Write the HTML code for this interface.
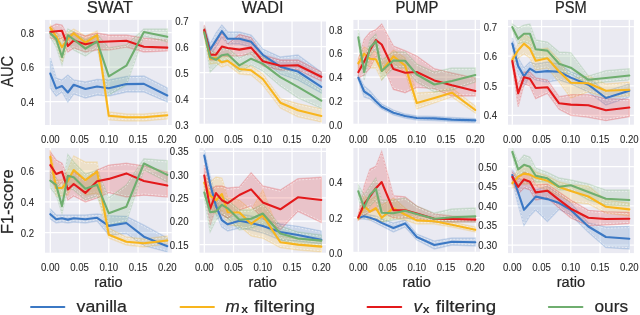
<!DOCTYPE html><html><head><meta charset="utf-8"><style>html,body{margin:0;padding:0;background:#fff;width:640px;height:315px;overflow:hidden}svg{display:block;will-change:transform}text{font-family:"Liberation Sans",sans-serif;fill:#262626}.tk{stroke:#262626;stroke-width:0.08px}.lg{stroke:#262626;stroke-width:0.2px}</style></head><body>
<svg width="640" height="315" viewBox="0 0 640 315">
<defs>
<clipPath id="c0"><rect x="45" y="19.9" width="126.80" height="105.10"/></clipPath>
<clipPath id="c1"><rect x="199.5" y="20.9" width="126.50" height="102.80"/></clipPath>
<clipPath id="c2"><rect x="353.4" y="19.9" width="126.60" height="103.80"/></clipPath>
<clipPath id="c3"><rect x="508" y="19.9" width="125.90" height="104.80"/></clipPath>
<clipPath id="c4"><rect x="45" y="148" width="126.80" height="104.70"/></clipPath>
<clipPath id="c5"><rect x="199.5" y="148" width="126.50" height="104.70"/></clipPath>
<clipPath id="c6"><rect x="353.4" y="148" width="126.60" height="103.80"/></clipPath>
<clipPath id="c7"><rect x="508" y="148" width="125.90" height="105.10"/></clipPath>
</defs>
<rect x="45" y="19.9" width="126.80" height="105.10" fill="#eaeaf2"/>
<line x1="50.30" y1="19.9" x2="50.30" y2="125" stroke="#fff" stroke-width="1.25"/>
<line x1="79.55" y1="19.9" x2="79.55" y2="125" stroke="#fff" stroke-width="1.25"/>
<line x1="108.80" y1="19.9" x2="108.80" y2="125" stroke="#fff" stroke-width="1.25"/>
<line x1="138.05" y1="19.9" x2="138.05" y2="125" stroke="#fff" stroke-width="1.25"/>
<line x1="167.30" y1="19.9" x2="167.30" y2="125" stroke="#fff" stroke-width="1.25"/>
<line x1="45" y1="101.7" x2="171.8" y2="101.7" stroke="#fff" stroke-width="1.25"/>
<line x1="45" y1="67.0" x2="171.8" y2="67.0" stroke="#fff" stroke-width="1.25"/>
<line x1="45" y1="32.5" x2="171.8" y2="32.5" stroke="#fff" stroke-width="1.25"/>
<g clip-path="url(#c0)">
<polygon points="50.3,58 56.15,78 62,80 67.85,75 73.7,80 85.4,82 97.1,79.5 108.8,80 126.35,76.5 143.9,76 167.3,88 167.3,102 143.9,92 126.35,92 108.8,96 97.1,95 85.4,98 73.7,94 67.85,102 62,92 56.15,96 50.3,88" fill="#3b78c4" fill-opacity="0.19" stroke="#3b78c4" stroke-opacity="0.2" stroke-width="1.3"/>
<polyline points="50.3,59.3 56.15,79.3 62,81.3 67.85,76.3 73.7,81.3 85.4,83.3 97.1,80.8 108.8,81.3 126.35,77.8 143.9,77.3 167.3,89.3" fill="none" stroke="#fff" stroke-opacity="0.7" stroke-width="0.75" stroke-dasharray="1.8 1.6"/>
<polyline points="50.3,86.7 56.15,94.7 62,90.7 67.85,100.7 73.7,92.7 85.4,96.7 97.1,93.7 108.8,94.7 126.35,90.7 143.9,90.7 167.3,100.7" fill="none" stroke="#fff" stroke-opacity="0.7" stroke-width="0.75" stroke-dasharray="1.8 1.6"/>
<polygon points="50.3,25 56.15,32 62,38 67.85,33 73.7,29 85.4,36 97.1,31 108.8,112 126.35,114 143.9,114 167.3,112 167.3,119 143.9,121 126.35,121 108.8,120 97.1,40 85.4,48 73.7,38 67.85,45 62,62 56.15,42 50.3,31" fill="#f8b51d" fill-opacity="0.19" stroke="#f8b51d" stroke-opacity="0.2" stroke-width="1.3"/>
<polyline points="50.3,26.3 56.15,33.3 62,39.3 67.85,34.3 73.7,30.3 85.4,37.3 97.1,32.3 108.8,113.3 126.35,115.3 143.9,115.3 167.3,113.3" fill="none" stroke="#fff" stroke-opacity="0.7" stroke-width="0.75" stroke-dasharray="1.8 1.6"/>
<polyline points="50.3,29.7 56.15,40.7 62,60.7 67.85,43.7 73.7,36.7 85.4,46.7 97.1,38.7 108.8,118.7 126.35,119.7 143.9,119.7 167.3,117.7" fill="none" stroke="#fff" stroke-opacity="0.7" stroke-width="0.75" stroke-dasharray="1.8 1.6"/>
<polygon points="50.3,27 56.15,24 62,25 67.85,36 73.7,32 85.4,36 97.1,33 108.8,35 126.35,35 143.9,38 167.3,40 167.3,51 143.9,52 126.35,47 108.8,50 97.1,50 85.4,52 73.7,48 67.85,52 62,38 56.15,40 50.3,38" fill="#e3191b" fill-opacity="0.19" stroke="#e3191b" stroke-opacity="0.2" stroke-width="1.3"/>
<polyline points="50.3,28.3 56.15,25.3 62,26.3 67.85,37.3 73.7,33.3 85.4,37.3 97.1,34.3 108.8,36.3 126.35,36.3 143.9,39.3 167.3,41.3" fill="none" stroke="#fff" stroke-opacity="0.7" stroke-width="0.75" stroke-dasharray="1.8 1.6"/>
<polyline points="50.3,36.7 56.15,38.7 62,36.7 67.85,50.7 73.7,46.7 85.4,50.7 97.1,48.7 108.8,48.7 126.35,45.7 143.9,50.7 167.3,49.7" fill="none" stroke="#fff" stroke-opacity="0.7" stroke-width="0.75" stroke-dasharray="1.8 1.6"/>
<polygon points="50.3,30 56.15,32 62,45 67.85,29 73.7,32 85.4,40 97.1,34 108.8,48 126.35,45 143.9,29 167.3,29 167.3,42 143.9,36 126.35,85 108.8,95 97.1,48 85.4,56 73.7,50 67.85,42 62,65 56.15,47 50.3,37" fill="#6fae6f" fill-opacity="0.19" stroke="#6fae6f" stroke-opacity="0.2" stroke-width="1.3"/>
<polyline points="50.3,31.3 56.15,33.3 62,46.3 67.85,30.3 73.7,33.3 85.4,41.3 97.1,35.3 108.8,49.3 126.35,46.3 143.9,30.3 167.3,30.3" fill="none" stroke="#fff" stroke-opacity="0.7" stroke-width="0.75" stroke-dasharray="1.8 1.6"/>
<polyline points="50.3,35.7 56.15,45.7 62,63.7 67.85,40.7 73.7,48.7 85.4,54.7 97.1,46.7 108.8,93.7 126.35,83.7 143.9,34.7 167.3,40.7" fill="none" stroke="#fff" stroke-opacity="0.7" stroke-width="0.75" stroke-dasharray="1.8 1.6"/>
<polyline points="50.3,73.6 56.15,88.4 62,86 67.85,92.5 73.7,84.75 85.4,89 97.1,86.5 108.8,88.2 126.35,84.1 143.9,83.9 167.3,95.5" fill="none" stroke="#3b78c4" stroke-width="2.1" stroke-linejoin="round" stroke-linecap="round"/>
<polyline points="50.3,27.6 56.15,36.5 62,47.2 67.85,39 73.7,33.3 85.4,42.5 97.1,35.2 108.8,115.8 126.35,117.3 143.9,117.2 167.3,115.2" fill="none" stroke="#f8b51d" stroke-width="2.1" stroke-linejoin="round" stroke-linecap="round"/>
<polyline points="50.3,32 56.15,31.3 62,30.8 67.85,46 73.7,40.5 85.4,44.2 97.1,42 108.8,41.5 126.35,40.8 143.9,46.8 167.3,47.6" fill="none" stroke="#e3191b" stroke-width="2.1" stroke-linejoin="round" stroke-linecap="round"/>
<polyline points="50.3,33.3 56.15,39 62,57 67.85,35.2 73.7,39.5 85.4,48.6 97.1,41.5 108.8,76.4 126.35,65.7 143.9,32 167.3,36.8" fill="none" stroke="#6fae6f" stroke-width="2.1" stroke-linejoin="round" stroke-linecap="round"/>
</g>
<text transform="translate(50.30,142.80) scale(1,1.07)" font-size="9.6" class="tk" text-anchor="middle">0.00</text>
<text transform="translate(79.55,142.80) scale(1,1.07)" font-size="9.6" class="tk" text-anchor="middle">0.05</text>
<text transform="translate(108.80,142.80) scale(1,1.07)" font-size="9.6" class="tk" text-anchor="middle">0.10</text>
<text transform="translate(138.05,142.80) scale(1,1.07)" font-size="9.6" class="tk" text-anchor="middle">0.15</text>
<text transform="translate(167.30,142.80) scale(1,1.07)" font-size="9.6" class="tk" text-anchor="middle">0.20</text>
<text transform="translate(34.00,105.70) scale(1,1.07)" font-size="9.6" class="tk" text-anchor="end">0.4</text>
<text transform="translate(34.00,71.00) scale(1,1.07)" font-size="9.6" class="tk" text-anchor="end">0.6</text>
<text transform="translate(34.00,36.50) scale(1,1.07)" font-size="9.6" class="tk" text-anchor="end">0.8</text>
<text x="86.80" y="13.2" font-size="16" class="lg" textLength="46.20" lengthAdjust="spacingAndGlyphs">SWAT</text>
<rect x="199.5" y="20.9" width="126.50" height="102.80" fill="#eaeaf2"/>
<line x1="204.30" y1="20.9" x2="204.30" y2="123.7" stroke="#fff" stroke-width="1.25"/>
<line x1="233.55" y1="20.9" x2="233.55" y2="123.7" stroke="#fff" stroke-width="1.25"/>
<line x1="262.80" y1="20.9" x2="262.80" y2="123.7" stroke="#fff" stroke-width="1.25"/>
<line x1="292.05" y1="20.9" x2="292.05" y2="123.7" stroke="#fff" stroke-width="1.25"/>
<line x1="321.30" y1="20.9" x2="321.30" y2="123.7" stroke="#fff" stroke-width="1.25"/>
<line x1="199.5" y1="98.5" x2="326" y2="98.5" stroke="#fff" stroke-width="1.25"/>
<line x1="199.5" y1="72.6" x2="326" y2="72.6" stroke="#fff" stroke-width="1.25"/>
<line x1="199.5" y1="46.6" x2="326" y2="46.6" stroke="#fff" stroke-width="1.25"/>
<line x1="199.5" y1="20.8" x2="326" y2="20.8" stroke="#fff" stroke-width="1.25"/>
<g clip-path="url(#c1)">
<polygon points="204.3,26 210.15,44 216,33 221.85,25 227.7,32 239.4,32 251.1,35 262.8,49 280.35,57 297.9,55 321.3,72 321.3,93 297.9,80 280.35,74 262.8,60 251.1,47 239.4,44 227.7,44 221.85,37 216,47 210.15,55 204.3,34" fill="#3b78c4" fill-opacity="0.19" stroke="#3b78c4" stroke-opacity="0.2" stroke-width="1.3"/>
<polyline points="204.3,27.3 210.15,45.3 216,34.3 221.85,26.3 227.7,33.3 239.4,33.3 251.1,36.3 262.8,50.3 280.35,58.3 297.9,56.3 321.3,73.3" fill="none" stroke="#fff" stroke-opacity="0.7" stroke-width="0.75" stroke-dasharray="1.8 1.6"/>
<polyline points="204.3,32.7 210.15,53.7 216,45.7 221.85,35.7 227.7,42.7 239.4,42.7 251.1,45.7 262.8,58.7 280.35,72.7 297.9,78.7 321.3,91.7" fill="none" stroke="#fff" stroke-opacity="0.7" stroke-width="0.75" stroke-dasharray="1.8 1.6"/>
<polygon points="204.3,27 210.15,54 216,53 221.85,57 227.7,56 239.4,64 251.1,66 262.8,74 280.35,98.5 297.9,103.6 321.3,108.7 321.3,122 297.9,116.8 280.35,108 262.8,85 251.1,75 239.4,74 227.7,65 221.85,67 216,63 210.15,64 204.3,35" fill="#f8b51d" fill-opacity="0.19" stroke="#f8b51d" stroke-opacity="0.2" stroke-width="1.3"/>
<polyline points="204.3,28.3 210.15,55.3 216,54.3 221.85,58.3 227.7,57.3 239.4,65.3 251.1,67.3 262.8,75.3 280.35,99.8 297.9,104.9 321.3,110" fill="none" stroke="#fff" stroke-opacity="0.7" stroke-width="0.75" stroke-dasharray="1.8 1.6"/>
<polyline points="204.3,33.7 210.15,62.7 216,61.7 221.85,65.7 227.7,63.7 239.4,72.7 251.1,73.7 262.8,83.7 280.35,106.7 297.9,115.5 321.3,120.7" fill="none" stroke="#fff" stroke-opacity="0.7" stroke-width="0.75" stroke-dasharray="1.8 1.6"/>
<polygon points="204.3,25 210.15,48 216,44 221.85,33 227.7,44 239.4,34.5 251.1,37.5 262.8,55 280.35,60 297.9,60 321.3,72 321.3,81 297.9,70 280.35,70 262.8,66 251.1,54 239.4,56 227.7,56 221.85,56 216,60 210.15,60 204.3,35" fill="#e3191b" fill-opacity="0.19" stroke="#e3191b" stroke-opacity="0.2" stroke-width="1.3"/>
<polyline points="204.3,26.3 210.15,49.3 216,45.3 221.85,34.3 227.7,45.3 239.4,35.8 251.1,38.8 262.8,56.3 280.35,61.3 297.9,61.3 321.3,73.3" fill="none" stroke="#fff" stroke-opacity="0.7" stroke-width="0.75" stroke-dasharray="1.8 1.6"/>
<polyline points="204.3,33.7 210.15,58.7 216,58.7 221.85,54.7 227.7,54.7 239.4,54.7 251.1,52.7 262.8,64.7 280.35,68.7 297.9,68.7 321.3,79.7" fill="none" stroke="#fff" stroke-opacity="0.7" stroke-width="0.75" stroke-dasharray="1.8 1.6"/>
<polygon points="204.3,28 210.15,50 216,53 221.85,49 227.7,48 239.4,58 251.1,52 262.8,57 280.35,67 297.9,74 321.3,90 321.3,108.3 297.9,98 280.35,86 262.8,71 251.1,65 239.4,72 227.7,60 221.85,61 216,66 210.15,72 204.3,36" fill="#6fae6f" fill-opacity="0.19" stroke="#6fae6f" stroke-opacity="0.2" stroke-width="1.3"/>
<polyline points="204.3,29.3 210.15,51.3 216,54.3 221.85,50.3 227.7,49.3 239.4,59.3 251.1,53.3 262.8,58.3 280.35,68.3 297.9,75.3 321.3,91.3" fill="none" stroke="#fff" stroke-opacity="0.7" stroke-width="0.75" stroke-dasharray="1.8 1.6"/>
<polyline points="204.3,34.7 210.15,70.7 216,64.7 221.85,59.7 227.7,58.7 239.4,70.7 251.1,63.7 262.8,69.7 280.35,84.7 297.9,96.7 321.3,107" fill="none" stroke="#fff" stroke-opacity="0.7" stroke-width="0.75" stroke-dasharray="1.8 1.6"/>
<polyline points="204.3,30.5 210.15,49.6 216,40.4 221.85,31.2 227.7,38.8 239.4,38.8 251.1,41.8 262.8,54.8 280.35,66.7 297.9,71.5 321.3,86.9" fill="none" stroke="#3b78c4" stroke-width="2.1" stroke-linejoin="round" stroke-linecap="round"/>
<polyline points="204.3,31.5 210.15,58.8 216,57.8 221.85,62.3 227.7,60.8 239.4,69 251.1,70.3 262.8,79 280.35,102.7 297.9,110.3 321.3,116" fill="none" stroke="#f8b51d" stroke-width="2.1" stroke-linejoin="round" stroke-linecap="round"/>
<polyline points="204.3,29.9 210.15,54.7 216,54.7 221.85,46.6 227.7,48 239.4,49.6 251.1,47.6 262.8,61.2 280.35,65.7 297.9,65.3 321.3,76.8" fill="none" stroke="#e3191b" stroke-width="2.1" stroke-linejoin="round" stroke-linecap="round"/>
<polyline points="204.3,32.4 210.15,57.3 216,59.8 221.85,55.2 227.7,54.2 239.4,65.4 251.1,58.7 262.8,63.9 280.35,77.1 297.9,86.9 321.3,100.7" fill="none" stroke="#6fae6f" stroke-width="2.1" stroke-linejoin="round" stroke-linecap="round"/>
</g>
<text transform="translate(204.30,142.80) scale(1,1.07)" font-size="9.6" class="tk" text-anchor="middle">0.00</text>
<text transform="translate(233.55,142.80) scale(1,1.07)" font-size="9.6" class="tk" text-anchor="middle">0.05</text>
<text transform="translate(262.80,142.80) scale(1,1.07)" font-size="9.6" class="tk" text-anchor="middle">0.10</text>
<text transform="translate(292.05,142.80) scale(1,1.07)" font-size="9.6" class="tk" text-anchor="middle">0.15</text>
<text transform="translate(321.30,142.80) scale(1,1.07)" font-size="9.6" class="tk" text-anchor="middle">0.20</text>
<text transform="translate(188.50,128.50) scale(1,1.07)" font-size="9.6" class="tk" text-anchor="end">0.3</text>
<text transform="translate(188.50,102.50) scale(1,1.07)" font-size="9.6" class="tk" text-anchor="end">0.4</text>
<text transform="translate(188.50,76.60) scale(1,1.07)" font-size="9.6" class="tk" text-anchor="end">0.5</text>
<text transform="translate(188.50,50.60) scale(1,1.07)" font-size="9.6" class="tk" text-anchor="end">0.6</text>
<text transform="translate(188.50,24.80) scale(1,1.07)" font-size="9.6" class="tk" text-anchor="end">0.7</text>
<text x="241.70" y="13.2" font-size="16" class="lg" textLength="41.80" lengthAdjust="spacingAndGlyphs">WADI</text>
<rect x="353.4" y="19.9" width="126.60" height="103.80" fill="#eaeaf2"/>
<line x1="358.30" y1="19.9" x2="358.30" y2="123.7" stroke="#fff" stroke-width="1.25"/>
<line x1="387.55" y1="19.9" x2="387.55" y2="123.7" stroke="#fff" stroke-width="1.25"/>
<line x1="416.80" y1="19.9" x2="416.80" y2="123.7" stroke="#fff" stroke-width="1.25"/>
<line x1="446.05" y1="19.9" x2="446.05" y2="123.7" stroke="#fff" stroke-width="1.25"/>
<line x1="475.30" y1="19.9" x2="475.30" y2="123.7" stroke="#fff" stroke-width="1.25"/>
<line x1="353.4" y1="101.0" x2="480" y2="101.0" stroke="#fff" stroke-width="1.25"/>
<line x1="353.4" y1="77.2" x2="480" y2="77.2" stroke="#fff" stroke-width="1.25"/>
<line x1="353.4" y1="53.4" x2="480" y2="53.4" stroke="#fff" stroke-width="1.25"/>
<line x1="353.4" y1="29.6" x2="480" y2="29.6" stroke="#fff" stroke-width="1.25"/>
<g clip-path="url(#c2)">
<polygon points="358.3,75 364.15,86 370,91 375.85,98 381.7,104 393.4,110 405.1,114 416.8,116 434.35,116.5 451.9,117.5 475.3,118.5 475.3,122.5 451.9,121.5 434.35,120.5 416.8,120 405.1,118 393.4,115 381.7,109 375.85,104 370,99 364.15,97 358.3,80" fill="#3b78c4" fill-opacity="0.19" stroke="#3b78c4" stroke-opacity="0.2" stroke-width="1.3"/>
<polyline points="358.3,76.3 364.15,87.3 370,92.3 375.85,99.3 381.7,105.3 393.4,111.3 405.1,115.3 416.8,117.3 434.35,117.8 451.9,118.8 475.3,119.8" fill="none" stroke="#fff" stroke-opacity="0.7" stroke-width="0.75" stroke-dasharray="1.8 1.6"/>
<polyline points="358.3,78.7 364.15,95.7 370,97.7 375.85,102.7 381.7,107.7 393.4,113.7 405.1,116.7 416.8,118.7 434.35,119.2 451.9,120.2 475.3,121.2" fill="none" stroke="#fff" stroke-opacity="0.7" stroke-width="0.75" stroke-dasharray="1.8 1.6"/>
<polygon points="358.3,58 364.15,47 370,50 375.85,52 381.7,62 393.4,50 405.1,58 416.8,93 434.35,92 451.9,88 475.3,106 475.3,113 451.9,97 434.35,103 416.8,109 405.1,72 393.4,63 381.7,80 375.85,68 370,68 364.15,60 358.3,68" fill="#f8b51d" fill-opacity="0.19" stroke="#f8b51d" stroke-opacity="0.2" stroke-width="1.3"/>
<polyline points="358.3,59.3 364.15,48.3 370,51.3 375.85,53.3 381.7,63.3 393.4,51.3 405.1,59.3 416.8,94.3 434.35,93.3 451.9,89.3 475.3,107.3" fill="none" stroke="#fff" stroke-opacity="0.7" stroke-width="0.75" stroke-dasharray="1.8 1.6"/>
<polyline points="358.3,66.7 364.15,58.7 370,66.7 375.85,66.7 381.7,78.7 393.4,61.7 405.1,70.7 416.8,107.7 434.35,101.7 451.9,95.7 475.3,111.7" fill="none" stroke="#fff" stroke-opacity="0.7" stroke-width="0.75" stroke-dasharray="1.8 1.6"/>
<polygon points="358.3,60 364.15,39.3 370,32.2 375.85,29.6 381.7,24 393.4,46 405.1,50.7 416.8,56 434.35,68.7 451.9,73 475.3,78 475.3,96 451.9,96 434.35,88.7 416.8,87.3 405.1,92.7 393.4,89.4 381.7,62 375.85,56 370,68 364.15,75 358.3,78" fill="#e3191b" fill-opacity="0.19" stroke="#e3191b" stroke-opacity="0.2" stroke-width="1.3"/>
<polyline points="358.3,61.3 364.15,40.6 370,33.5 375.85,30.9 381.7,25.3 393.4,47.3 405.1,52 416.8,57.3 434.35,70 451.9,74.3 475.3,79.3" fill="none" stroke="#fff" stroke-opacity="0.7" stroke-width="0.75" stroke-dasharray="1.8 1.6"/>
<polyline points="358.3,76.7 364.15,73.7 370,66.7 375.85,54.7 381.7,60.7 393.4,88.1 405.1,91.4 416.8,86 434.35,87.4 451.9,94.7 475.3,94.7" fill="none" stroke="#fff" stroke-opacity="0.7" stroke-width="0.75" stroke-dasharray="1.8 1.6"/>
<polygon points="358.3,30 364.15,62 370,40 375.85,34 381.7,60 393.4,52 405.1,52 416.8,64 434.35,72 451.9,68 475.3,68 475.3,82 451.9,90 434.35,92 416.8,82 405.1,68 393.4,68 381.7,80 375.85,48 370,56 364.15,80 358.3,44" fill="#6fae6f" fill-opacity="0.19" stroke="#6fae6f" stroke-opacity="0.2" stroke-width="1.3"/>
<polyline points="358.3,31.3 364.15,63.3 370,41.3 375.85,35.3 381.7,61.3 393.4,53.3 405.1,53.3 416.8,65.3 434.35,73.3 451.9,69.3 475.3,69.3" fill="none" stroke="#fff" stroke-opacity="0.7" stroke-width="0.75" stroke-dasharray="1.8 1.6"/>
<polyline points="358.3,42.7 364.15,78.7 370,54.7 375.85,46.7 381.7,78.7 393.4,66.7 405.1,66.7 416.8,80.7 434.35,90.7 451.9,88.7 475.3,80.7" fill="none" stroke="#fff" stroke-opacity="0.7" stroke-width="0.75" stroke-dasharray="1.8 1.6"/>
<polyline points="358.3,77.7 364.15,91.5 370,95.3 375.85,101.3 381.7,106.7 393.4,112.7 405.1,116 416.8,118 434.35,118.4 451.9,119.6 475.3,120.4" fill="none" stroke="#3b78c4" stroke-width="2.1" stroke-linejoin="round" stroke-linecap="round"/>
<polyline points="358.3,63.4 364.15,53.7 370,58.8 375.85,59.3 381.7,71 393.4,56.3 405.1,65.5 416.8,103.1 434.35,97.9 451.9,92.7 475.3,110" fill="none" stroke="#f8b51d" stroke-width="2.1" stroke-linejoin="round" stroke-linecap="round"/>
<polyline points="358.3,72.2 364.15,61.6 370,50 375.85,40.2 381.7,44.5 393.4,69.1 405.1,72.7 416.8,72 434.35,80.4 451.9,85.3 475.3,91" fill="none" stroke="#e3191b" stroke-width="2.1" stroke-linejoin="round" stroke-linecap="round"/>
<polyline points="358.3,37.3 364.15,72 370,47.6 375.85,41.2 381.7,71 393.4,60.5 405.1,60.7 416.8,74.5 434.35,84.5 451.9,81 475.3,75" fill="none" stroke="#6fae6f" stroke-width="2.1" stroke-linejoin="round" stroke-linecap="round"/>
</g>
<text transform="translate(358.30,142.80) scale(1,1.07)" font-size="9.6" class="tk" text-anchor="middle">0.00</text>
<text transform="translate(387.55,142.80) scale(1,1.07)" font-size="9.6" class="tk" text-anchor="middle">0.05</text>
<text transform="translate(416.80,142.80) scale(1,1.07)" font-size="9.6" class="tk" text-anchor="middle">0.10</text>
<text transform="translate(446.05,142.80) scale(1,1.07)" font-size="9.6" class="tk" text-anchor="middle">0.15</text>
<text transform="translate(475.30,142.80) scale(1,1.07)" font-size="9.6" class="tk" text-anchor="middle">0.20</text>
<text transform="translate(342.40,128.80) scale(1,1.07)" font-size="9.6" class="tk" text-anchor="end">0.0</text>
<text transform="translate(342.40,105.00) scale(1,1.07)" font-size="9.6" class="tk" text-anchor="end">0.2</text>
<text transform="translate(342.40,81.20) scale(1,1.07)" font-size="9.6" class="tk" text-anchor="end">0.4</text>
<text transform="translate(342.40,57.40) scale(1,1.07)" font-size="9.6" class="tk" text-anchor="end">0.6</text>
<text transform="translate(342.40,33.60) scale(1,1.07)" font-size="9.6" class="tk" text-anchor="end">0.8</text>
<text x="395.40" y="13.2" font-size="16" class="lg" textLength="43.00" lengthAdjust="spacingAndGlyphs">PUMP</text>
<rect x="508" y="19.9" width="125.90" height="104.80" fill="#eaeaf2"/>
<line x1="512.30" y1="19.9" x2="512.30" y2="124.7" stroke="#fff" stroke-width="1.25"/>
<line x1="541.55" y1="19.9" x2="541.55" y2="124.7" stroke="#fff" stroke-width="1.25"/>
<line x1="570.80" y1="19.9" x2="570.80" y2="124.7" stroke="#fff" stroke-width="1.25"/>
<line x1="600.05" y1="19.9" x2="600.05" y2="124.7" stroke="#fff" stroke-width="1.25"/>
<line x1="629.30" y1="19.9" x2="629.30" y2="124.7" stroke="#fff" stroke-width="1.25"/>
<line x1="508" y1="115.4" x2="633.9" y2="115.4" stroke="#fff" stroke-width="1.25"/>
<line x1="508" y1="85.8" x2="633.9" y2="85.8" stroke="#fff" stroke-width="1.25"/>
<line x1="508" y1="56.2" x2="633.9" y2="56.2" stroke="#fff" stroke-width="1.25"/>
<line x1="508" y1="26.6" x2="633.9" y2="26.6" stroke="#fff" stroke-width="1.25"/>
<g clip-path="url(#c3)">
<polygon points="512.3,38 518.15,58 524,68 529.85,62 535.7,64 547.4,62 559.1,64 570.8,72 588.35,78 605.9,91 629.3,84 629.3,97 605.9,105 588.35,92 570.8,84 559.1,80 547.4,82 535.7,80 529.85,76 524,86 518.15,74 512.3,50" fill="#3b78c4" fill-opacity="0.19" stroke="#3b78c4" stroke-opacity="0.2" stroke-width="1.3"/>
<polyline points="512.3,39.3 518.15,59.3 524,69.3 529.85,63.3 535.7,65.3 547.4,63.3 559.1,65.3 570.8,73.3 588.35,79.3 605.9,92.3 629.3,85.3" fill="none" stroke="#fff" stroke-opacity="0.7" stroke-width="0.75" stroke-dasharray="1.8 1.6"/>
<polyline points="512.3,48.7 518.15,72.7 524,84.7 529.85,74.7 535.7,78.7 547.4,80.7 559.1,78.7 570.8,82.7 588.35,90.7 605.9,103.7 629.3,95.7" fill="none" stroke="#fff" stroke-opacity="0.7" stroke-width="0.75" stroke-dasharray="1.8 1.6"/>
<polygon points="512.3,56 518.15,44 524,34 529.85,38 535.7,50 547.4,48 559.1,60 570.8,79 588.35,76 605.9,84 629.3,82 629.3,96 605.9,97 588.35,92 570.8,98 559.1,82 547.4,68 535.7,70 529.85,58 524,54 518.15,58 512.3,64" fill="#f8b51d" fill-opacity="0.19" stroke="#f8b51d" stroke-opacity="0.2" stroke-width="1.3"/>
<polyline points="512.3,57.3 518.15,45.3 524,35.3 529.85,39.3 535.7,51.3 547.4,49.3 559.1,61.3 570.8,80.3 588.35,77.3 605.9,85.3 629.3,83.3" fill="none" stroke="#fff" stroke-opacity="0.7" stroke-width="0.75" stroke-dasharray="1.8 1.6"/>
<polyline points="512.3,62.7 518.15,56.7 524,52.7 529.85,56.7 535.7,68.7 547.4,66.7 559.1,80.7 570.8,96.7 588.35,90.7 605.9,95.7 629.3,94.7" fill="none" stroke="#fff" stroke-opacity="0.7" stroke-width="0.75" stroke-dasharray="1.8 1.6"/>
<polygon points="512.3,56 518.15,84 524,72 529.85,72 535.7,78 547.4,80 559.1,96.7 570.8,94.7 588.35,94.7 605.9,98.7 629.3,99.3 629.3,116.7 605.9,120.7 588.35,117.3 570.8,115.3 559.1,109.3 547.4,93.3 535.7,98.7 529.85,86 524,84 518.15,106.7 512.3,66" fill="#e3191b" fill-opacity="0.19" stroke="#e3191b" stroke-opacity="0.2" stroke-width="1.3"/>
<polyline points="512.3,57.3 518.15,85.3 524,73.3 529.85,73.3 535.7,79.3 547.4,81.3 559.1,98 570.8,96 588.35,96 605.9,100 629.3,100.6" fill="none" stroke="#fff" stroke-opacity="0.7" stroke-width="0.75" stroke-dasharray="1.8 1.6"/>
<polyline points="512.3,64.7 518.15,105.4 524,82.7 529.85,84.7 535.7,97.4 547.4,92 559.1,108 570.8,114 588.35,116 605.9,119.4 629.3,115.4" fill="none" stroke="#fff" stroke-opacity="0.7" stroke-width="0.75" stroke-dasharray="1.8 1.6"/>
<polygon points="512.3,24 518.15,28 524,25 529.85,24 535.7,40 547.4,42 559.1,52 570.8,52.7 588.35,76 605.9,70.7 629.3,68.7 629.3,80 605.9,82 588.35,84 570.8,74 559.1,72 547.4,58 535.7,58 529.85,44 524,42 518.15,44 512.3,30" fill="#6fae6f" fill-opacity="0.19" stroke="#6fae6f" stroke-opacity="0.2" stroke-width="1.3"/>
<polyline points="512.3,25.3 518.15,29.3 524,26.3 529.85,25.3 535.7,41.3 547.4,43.3 559.1,53.3 570.8,54 588.35,77.3 605.9,72 629.3,70" fill="none" stroke="#fff" stroke-opacity="0.7" stroke-width="0.75" stroke-dasharray="1.8 1.6"/>
<polyline points="512.3,28.7 518.15,42.7 524,40.7 529.85,42.7 535.7,56.7 547.4,56.7 559.1,70.7 570.8,72.7 588.35,82.7 605.9,80.7 629.3,78.7" fill="none" stroke="#fff" stroke-opacity="0.7" stroke-width="0.75" stroke-dasharray="1.8 1.6"/>
<polyline points="512.3,43.6 518.15,65.9 524,76.2 529.85,68.6 535.7,72.2 547.4,71.1 559.1,71.8 570.8,77.6 588.35,84.7 605.9,98 629.3,90.7" fill="none" stroke="#3b78c4" stroke-width="2.1" stroke-linejoin="round" stroke-linecap="round"/>
<polyline points="512.3,59.8 518.15,50.2 524,43.6 529.85,48.6 535.7,60.8 547.4,58.3 559.1,71.5 570.8,82.7 588.35,83.3 605.9,90.7 629.3,89.7" fill="none" stroke="#f8b51d" stroke-width="2.1" stroke-linejoin="round" stroke-linecap="round"/>
<polyline points="512.3,61 518.15,93.3 524,77.2 529.85,78.8 535.7,88 547.4,87.2 559.1,103.3 570.8,104.6 588.35,105.3 605.9,110.2 629.3,107.5" fill="none" stroke="#e3191b" stroke-width="2.1" stroke-linejoin="round" stroke-linecap="round"/>
<polyline points="512.3,27.1 518.15,38.8 524,33.7 529.85,33.7 535.7,49.3 547.4,50.6 559.1,63.8 570.8,67.7 588.35,79.8 605.9,78 629.3,75.5" fill="none" stroke="#6fae6f" stroke-width="2.1" stroke-linejoin="round" stroke-linecap="round"/>
</g>
<text transform="translate(512.30,142.80) scale(1,1.07)" font-size="9.6" class="tk" text-anchor="middle">0.00</text>
<text transform="translate(541.55,142.80) scale(1,1.07)" font-size="9.6" class="tk" text-anchor="middle">0.05</text>
<text transform="translate(570.80,142.80) scale(1,1.07)" font-size="9.6" class="tk" text-anchor="middle">0.10</text>
<text transform="translate(600.05,142.80) scale(1,1.07)" font-size="9.6" class="tk" text-anchor="middle">0.15</text>
<text transform="translate(629.30,142.80) scale(1,1.07)" font-size="9.6" class="tk" text-anchor="middle">0.20</text>
<text transform="translate(497.00,119.40) scale(1,1.07)" font-size="9.6" class="tk" text-anchor="end">0.4</text>
<text transform="translate(497.00,89.80) scale(1,1.07)" font-size="9.6" class="tk" text-anchor="end">0.5</text>
<text transform="translate(497.00,60.20) scale(1,1.07)" font-size="9.6" class="tk" text-anchor="end">0.6</text>
<text transform="translate(497.00,30.60) scale(1,1.07)" font-size="9.6" class="tk" text-anchor="end">0.7</text>
<text x="554.90" y="13.2" font-size="16" class="lg" textLength="31.70" lengthAdjust="spacingAndGlyphs">PSM</text>
<rect x="45" y="148" width="126.80" height="104.70" fill="#eaeaf2"/>
<line x1="50.30" y1="148" x2="50.30" y2="252.7" stroke="#fff" stroke-width="1.25"/>
<line x1="79.55" y1="148" x2="79.55" y2="252.7" stroke="#fff" stroke-width="1.25"/>
<line x1="108.80" y1="148" x2="108.80" y2="252.7" stroke="#fff" stroke-width="1.25"/>
<line x1="138.05" y1="148" x2="138.05" y2="252.7" stroke="#fff" stroke-width="1.25"/>
<line x1="167.30" y1="148" x2="167.30" y2="252.7" stroke="#fff" stroke-width="1.25"/>
<line x1="45" y1="232.5" x2="171.8" y2="232.5" stroke="#fff" stroke-width="1.25"/>
<line x1="45" y1="201.75" x2="171.8" y2="201.75" stroke="#fff" stroke-width="1.25"/>
<line x1="45" y1="171.0" x2="171.8" y2="171.0" stroke="#fff" stroke-width="1.25"/>
<g clip-path="url(#c4)">
<polygon points="50.3,209 56.15,215 62,215 67.85,215 73.7,215 85.4,215 97.1,214 108.8,215.7 126.35,216.3 143.9,225.2 167.3,238 167.3,252 143.9,245.6 126.35,233.5 108.8,235 97.1,221 85.4,223 73.7,222 67.85,223 62,222 56.15,223 50.3,219" fill="#3b78c4" fill-opacity="0.19" stroke="#3b78c4" stroke-opacity="0.2" stroke-width="1.3"/>
<polyline points="50.3,210.3 56.15,216.3 62,216.3 67.85,216.3 73.7,216.3 85.4,216.3 97.1,215.3 108.8,217 126.35,217.6 143.9,226.5 167.3,239.3" fill="none" stroke="#fff" stroke-opacity="0.7" stroke-width="0.75" stroke-dasharray="1.8 1.6"/>
<polyline points="50.3,217.7 56.15,221.7 62,220.7 67.85,221.7 73.7,220.7 85.4,221.7 97.1,219.7 108.8,233.7 126.35,232.2 143.9,244.3 167.3,250.7" fill="none" stroke="#fff" stroke-opacity="0.7" stroke-width="0.75" stroke-dasharray="1.8 1.6"/>
<polygon points="50.3,150 56.15,180 62,180 67.85,170 73.7,156 85.4,162 97.1,162 108.8,228 126.35,237 143.9,239 167.3,236 167.3,244 143.9,247 126.35,245 108.8,238 97.1,193 85.4,195 73.7,182 67.85,195 62,196 56.15,196 50.3,163" fill="#f8b51d" fill-opacity="0.19" stroke="#f8b51d" stroke-opacity="0.2" stroke-width="1.3"/>
<polyline points="50.3,151.3 56.15,181.3 62,181.3 67.85,171.3 73.7,157.3 85.4,163.3 97.1,163.3 108.8,229.3 126.35,238.3 143.9,240.3 167.3,237.3" fill="none" stroke="#fff" stroke-opacity="0.7" stroke-width="0.75" stroke-dasharray="1.8 1.6"/>
<polyline points="50.3,161.7 56.15,194.7 62,194.7 67.85,193.7 73.7,180.7 85.4,193.7 97.1,191.7 108.8,236.7 126.35,243.7 143.9,245.7 167.3,242.7" fill="none" stroke="#fff" stroke-opacity="0.7" stroke-width="0.75" stroke-dasharray="1.8 1.6"/>
<polygon points="50.3,152 56.15,160 62,163.2 67.85,178 73.7,172 85.4,180 97.1,170 108.8,165.1 126.35,163.2 143.9,165.8 167.3,172 167.3,197.1 143.9,195.2 126.35,197 108.8,192.7 97.1,198 85.4,202 73.7,196 67.85,200 62,182 56.15,188 50.3,180" fill="#e3191b" fill-opacity="0.19" stroke="#e3191b" stroke-opacity="0.2" stroke-width="1.3"/>
<polyline points="50.3,153.3 56.15,161.3 62,164.5 67.85,179.3 73.7,173.3 85.4,181.3 97.1,171.3 108.8,166.4 126.35,164.5 143.9,167.1 167.3,173.3" fill="none" stroke="#fff" stroke-opacity="0.7" stroke-width="0.75" stroke-dasharray="1.8 1.6"/>
<polyline points="50.3,178.7 56.15,186.7 62,180.7 67.85,198.7 73.7,194.7 85.4,200.7 97.1,196.7 108.8,191.4 126.35,195.7 143.9,193.9 167.3,195.8" fill="none" stroke="#fff" stroke-opacity="0.7" stroke-width="0.75" stroke-dasharray="1.8 1.6"/>
<polygon points="50.3,172 56.15,178 62,190 67.85,154.6 73.7,162 85.4,174 97.1,170 108.8,197.8 126.35,185 143.9,158.8 167.3,160.7 167.3,182 143.9,170 126.35,221.4 108.8,225 97.1,196 85.4,200 73.7,190 67.85,188 62,213.2 56.15,195 50.3,188" fill="#6fae6f" fill-opacity="0.19" stroke="#6fae6f" stroke-opacity="0.2" stroke-width="1.3"/>
<polyline points="50.3,173.3 56.15,179.3 62,191.3 67.85,155.9 73.7,163.3 85.4,175.3 97.1,171.3 108.8,199.1 126.35,186.3 143.9,160.1 167.3,162" fill="none" stroke="#fff" stroke-opacity="0.7" stroke-width="0.75" stroke-dasharray="1.8 1.6"/>
<polyline points="50.3,186.7 56.15,193.7 62,211.9 67.85,186.7 73.7,188.7 85.4,198.7 97.1,194.7 108.8,223.7 126.35,220.1 143.9,168.7 167.3,180.7" fill="none" stroke="#fff" stroke-opacity="0.7" stroke-width="0.75" stroke-dasharray="1.8 1.6"/>
<polyline points="50.3,214.2 56.15,219.3 62,218.3 67.85,219.6 73.7,218.3 85.4,219.3 97.1,217.8 108.8,225.9 126.35,223 143.9,236.7 167.3,246.2" fill="none" stroke="#3b78c4" stroke-width="2.1" stroke-linejoin="round" stroke-linecap="round"/>
<polyline points="50.3,156.7 56.15,188 62,188 67.85,181 73.7,170 85.4,180.2 97.1,171.6 108.8,234.8 126.35,241.7 143.9,243.3 167.3,240.5" fill="none" stroke="#f8b51d" stroke-width="2.1" stroke-linejoin="round" stroke-linecap="round"/>
<polyline points="50.3,165.2 56.15,174 62,171.7 67.85,189.5 73.7,184 85.4,192.9 97.1,181.2 108.8,178.9 126.35,173.4 143.9,181 167.3,185.5" fill="none" stroke="#e3191b" stroke-width="2.1" stroke-linejoin="round" stroke-linecap="round"/>
<polyline points="50.3,180.6 56.15,185 62,206.1 67.85,175.7 73.7,177.3 85.4,188.8 97.1,184.8 108.8,213.3 126.35,206.7 143.9,163.5 167.3,174.9" fill="none" stroke="#6fae6f" stroke-width="2.1" stroke-linejoin="round" stroke-linecap="round"/>
</g>
<text transform="translate(50.30,271.00) scale(1,1.07)" font-size="9.6" class="tk" text-anchor="middle">0.00</text>
<text transform="translate(79.55,271.00) scale(1,1.07)" font-size="9.6" class="tk" text-anchor="middle">0.05</text>
<text transform="translate(108.80,271.00) scale(1,1.07)" font-size="9.6" class="tk" text-anchor="middle">0.10</text>
<text transform="translate(138.05,271.00) scale(1,1.07)" font-size="9.6" class="tk" text-anchor="middle">0.15</text>
<text transform="translate(167.30,271.00) scale(1,1.07)" font-size="9.6" class="tk" text-anchor="middle">0.20</text>
<text transform="translate(34.00,236.50) scale(1,1.07)" font-size="9.6" class="tk" text-anchor="end">0.2</text>
<text transform="translate(34.00,205.75) scale(1,1.07)" font-size="9.6" class="tk" text-anchor="end">0.4</text>
<text transform="translate(34.00,175.00) scale(1,1.07)" font-size="9.6" class="tk" text-anchor="end">0.6</text>
<text x="94.20" y="286.5" font-size="13.8" class="lg" textLength="28.4" lengthAdjust="spacingAndGlyphs">ratio</text>
<rect x="199.5" y="148" width="126.50" height="104.70" fill="#eaeaf2"/>
<line x1="204.30" y1="148" x2="204.30" y2="252.7" stroke="#fff" stroke-width="1.25"/>
<line x1="233.55" y1="148" x2="233.55" y2="252.7" stroke="#fff" stroke-width="1.25"/>
<line x1="262.80" y1="148" x2="262.80" y2="252.7" stroke="#fff" stroke-width="1.25"/>
<line x1="292.05" y1="148" x2="292.05" y2="252.7" stroke="#fff" stroke-width="1.25"/>
<line x1="321.30" y1="148" x2="321.30" y2="252.7" stroke="#fff" stroke-width="1.25"/>
<line x1="199.5" y1="244.5" x2="326" y2="244.5" stroke="#fff" stroke-width="1.25"/>
<line x1="199.5" y1="221.2" x2="326" y2="221.2" stroke="#fff" stroke-width="1.25"/>
<line x1="199.5" y1="197.9" x2="326" y2="197.9" stroke="#fff" stroke-width="1.25"/>
<line x1="199.5" y1="174.6" x2="326" y2="174.6" stroke="#fff" stroke-width="1.25"/>
<line x1="199.5" y1="151.3" x2="326" y2="151.3" stroke="#fff" stroke-width="1.25"/>
<g clip-path="url(#c5)">
<polygon points="204.3,150 210.15,176 216,198 221.85,214 227.7,218 239.4,214 251.1,216 262.8,219 280.35,224 297.9,226.3 321.3,231 321.3,243.7 297.9,241 280.35,240 262.8,233 251.1,230 239.4,228 227.7,231 221.85,227 216,214 210.15,192 204.3,161" fill="#3b78c4" fill-opacity="0.19" stroke="#3b78c4" stroke-opacity="0.2" stroke-width="1.3"/>
<polyline points="204.3,151.3 210.15,177.3 216,199.3 221.85,215.3 227.7,219.3 239.4,215.3 251.1,217.3 262.8,220.3 280.35,225.3 297.9,227.6 321.3,232.3" fill="none" stroke="#fff" stroke-opacity="0.7" stroke-width="0.75" stroke-dasharray="1.8 1.6"/>
<polyline points="204.3,159.7 210.15,190.7 216,212.7 221.85,225.7 227.7,229.7 239.4,226.7 251.1,228.7 262.8,231.7 280.35,238.7 297.9,239.7 321.3,242.4" fill="none" stroke="#fff" stroke-opacity="0.7" stroke-width="0.75" stroke-dasharray="1.8 1.6"/>
<polygon points="204.3,176 210.15,182 216,177 221.85,178 227.7,198 239.4,200 251.1,210 262.8,190 280.35,236 297.9,239 321.3,241 321.3,252 297.9,250 280.35,247.7 262.8,238.3 251.1,236 239.4,226 227.7,225 221.85,210 216,214 210.15,208 204.3,190" fill="#f8b51d" fill-opacity="0.19" stroke="#f8b51d" stroke-opacity="0.2" stroke-width="1.3"/>
<polyline points="204.3,177.3 210.15,183.3 216,178.3 221.85,179.3 227.7,199.3 239.4,201.3 251.1,211.3 262.8,191.3 280.35,237.3 297.9,240.3 321.3,242.3" fill="none" stroke="#fff" stroke-opacity="0.7" stroke-width="0.75" stroke-dasharray="1.8 1.6"/>
<polyline points="204.3,188.7 210.15,206.7 216,212.7 221.85,208.7 227.7,223.7 239.4,224.7 251.1,234.7 262.8,237 280.35,246.4 297.9,248.7 321.3,250.7" fill="none" stroke="#fff" stroke-opacity="0.7" stroke-width="0.75" stroke-dasharray="1.8 1.6"/>
<polygon points="204.3,165 210.15,190 216,186 221.85,186 227.7,188 239.4,187 251.1,172.7 262.8,186 280.35,190 297.9,178.7 321.3,177.3 321.3,222.5 297.9,211.3 280.35,229.6 262.8,218.4 251.1,206 239.4,210 227.7,218 221.85,215 216,208 210.15,225 204.3,186" fill="#e3191b" fill-opacity="0.19" stroke="#e3191b" stroke-opacity="0.2" stroke-width="1.3"/>
<polyline points="204.3,166.3 210.15,191.3 216,187.3 221.85,187.3 227.7,189.3 239.4,188.3 251.1,174 262.8,187.3 280.35,191.3 297.9,180 321.3,178.6" fill="none" stroke="#fff" stroke-opacity="0.7" stroke-width="0.75" stroke-dasharray="1.8 1.6"/>
<polyline points="204.3,184.7 210.15,223.7 216,206.7 221.85,213.7 227.7,216.7 239.4,208.7 251.1,204.7 262.8,217.1 280.35,228.3 297.9,210 321.3,221.2" fill="none" stroke="#fff" stroke-opacity="0.7" stroke-width="0.75" stroke-dasharray="1.8 1.6"/>
<polygon points="204.3,186 210.15,204 216,203 221.85,196 227.7,200 239.4,210 251.1,210 262.8,204 280.35,226 297.9,232 321.3,235 321.3,246 297.9,245 280.35,240 262.8,224 251.1,228 239.4,230 227.7,218 221.85,214 216,220 210.15,232 204.3,199" fill="#6fae6f" fill-opacity="0.19" stroke="#6fae6f" stroke-opacity="0.2" stroke-width="1.3"/>
<polyline points="204.3,187.3 210.15,205.3 216,204.3 221.85,197.3 227.7,201.3 239.4,211.3 251.1,211.3 262.8,205.3 280.35,227.3 297.9,233.3 321.3,236.3" fill="none" stroke="#fff" stroke-opacity="0.7" stroke-width="0.75" stroke-dasharray="1.8 1.6"/>
<polyline points="204.3,197.7 210.15,230.7 216,218.7 221.85,212.7 227.7,216.7 239.4,228.7 251.1,226.7 262.8,222.7 280.35,238.7 297.9,243.7 321.3,244.7" fill="none" stroke="#fff" stroke-opacity="0.7" stroke-width="0.75" stroke-dasharray="1.8 1.6"/>
<polyline points="204.3,155.6 210.15,184 216,206 221.85,220.2 227.7,224.3 239.4,220.7 251.1,223 262.8,226 280.35,232 297.9,235 321.3,239.7" fill="none" stroke="#3b78c4" stroke-width="2.1" stroke-linejoin="round" stroke-linecap="round"/>
<polyline points="204.3,182.7 210.15,195.6 216,200.2 221.85,194.1 227.7,212.2 239.4,212.5 251.1,223.8 262.8,215.4 280.35,242.3 297.9,244.6 321.3,246.6" fill="none" stroke="#f8b51d" stroke-width="2.1" stroke-linejoin="round" stroke-linecap="round"/>
<polyline points="204.3,175.6 210.15,208.8 216,193.1 221.85,200.2 227.7,203.2 239.4,195 251.1,189.4 262.8,202.4 280.35,209.3 297.9,197.3 321.3,200" fill="none" stroke="#e3191b" stroke-width="2.1" stroke-linejoin="round" stroke-linecap="round"/>
<polyline points="204.3,192.5 210.15,212.3 216,211.4 221.85,204.8 227.7,208.3 239.4,219.8 251.1,218.8 262.8,213.5 280.35,233.5 297.9,238.5 321.3,240.6" fill="none" stroke="#6fae6f" stroke-width="2.1" stroke-linejoin="round" stroke-linecap="round"/>
</g>
<text transform="translate(204.30,271.00) scale(1,1.07)" font-size="9.6" class="tk" text-anchor="middle">0.00</text>
<text transform="translate(233.55,271.00) scale(1,1.07)" font-size="9.6" class="tk" text-anchor="middle">0.05</text>
<text transform="translate(262.80,271.00) scale(1,1.07)" font-size="9.6" class="tk" text-anchor="middle">0.10</text>
<text transform="translate(292.05,271.00) scale(1,1.07)" font-size="9.6" class="tk" text-anchor="middle">0.15</text>
<text transform="translate(321.30,271.00) scale(1,1.07)" font-size="9.6" class="tk" text-anchor="middle">0.20</text>
<text transform="translate(188.50,248.50) scale(1,1.07)" font-size="9.6" class="tk" text-anchor="end">0.15</text>
<text transform="translate(188.50,225.20) scale(1,1.07)" font-size="9.6" class="tk" text-anchor="end">0.20</text>
<text transform="translate(188.50,201.90) scale(1,1.07)" font-size="9.6" class="tk" text-anchor="end">0.25</text>
<text transform="translate(188.50,178.60) scale(1,1.07)" font-size="9.6" class="tk" text-anchor="end">0.30</text>
<text transform="translate(188.50,155.30) scale(1,1.07)" font-size="9.6" class="tk" text-anchor="end">0.35</text>
<text x="248.55" y="286.5" font-size="13.8" class="lg" textLength="28.4" lengthAdjust="spacingAndGlyphs">ratio</text>
<rect x="353.4" y="148" width="126.60" height="103.80" fill="#eaeaf2"/>
<line x1="358.30" y1="148" x2="358.30" y2="251.8" stroke="#fff" stroke-width="1.25"/>
<line x1="387.55" y1="148" x2="387.55" y2="251.8" stroke="#fff" stroke-width="1.25"/>
<line x1="416.80" y1="148" x2="416.80" y2="251.8" stroke="#fff" stroke-width="1.25"/>
<line x1="446.05" y1="148" x2="446.05" y2="251.8" stroke="#fff" stroke-width="1.25"/>
<line x1="475.30" y1="148" x2="475.30" y2="251.8" stroke="#fff" stroke-width="1.25"/>
<line x1="353.4" y1="217.6" x2="480" y2="217.6" stroke="#fff" stroke-width="1.25"/>
<line x1="353.4" y1="182.3" x2="480" y2="182.3" stroke="#fff" stroke-width="1.25"/>
<g clip-path="url(#c6)">
<polygon points="358.3,216 364.15,214 370,215 375.85,216 381.7,219 393.4,223 405.1,220 416.8,234 434.35,241 451.9,238 475.3,238 475.3,246 451.9,245 434.35,249 416.8,240 405.1,227 393.4,232 381.7,226 375.85,223 370,220 364.15,219 358.3,219" fill="#3b78c4" fill-opacity="0.19" stroke="#3b78c4" stroke-opacity="0.2" stroke-width="1.3"/>
<polyline points="358.3,217.3 364.15,215.3 370,216.3 375.85,217.3 381.7,220.3 393.4,224.3 405.1,221.3 416.8,235.3 434.35,242.3 451.9,239.3 475.3,239.3" fill="none" stroke="#fff" stroke-opacity="0.7" stroke-width="0.75" stroke-dasharray="1.8 1.6"/>
<polyline points="358.3,217.8 364.15,217.7 370,218.7 375.85,221.7 381.7,224.7 393.4,230.7 405.1,225.7 416.8,238.7 434.35,247.7 451.9,243.7 475.3,244.7" fill="none" stroke="#fff" stroke-opacity="0.7" stroke-width="0.75" stroke-dasharray="1.8 1.6"/>
<polygon points="358.3,216 364.15,196 370,200 375.85,196 381.7,205 393.4,198 405.1,208 416.8,216 434.35,218 451.9,222 475.3,227 475.3,232 451.9,227 434.35,224 416.8,224 405.1,220 393.4,218 381.7,222 375.85,218 370,220 364.15,216 358.3,220" fill="#f8b51d" fill-opacity="0.19" stroke="#f8b51d" stroke-opacity="0.2" stroke-width="1.3"/>
<polyline points="358.3,217.3 364.15,197.3 370,201.3 375.85,197.3 381.7,206.3 393.4,199.3 405.1,209.3 416.8,217.3 434.35,219.3 451.9,223.3 475.3,228.3" fill="none" stroke="#fff" stroke-opacity="0.7" stroke-width="0.75" stroke-dasharray="1.8 1.6"/>
<polyline points="358.3,218.7 364.15,214.7 370,218.7 375.85,216.7 381.7,220.7 393.4,216.7 405.1,218.7 416.8,222.7 434.35,222.7 451.9,225.7 475.3,230.7" fill="none" stroke="#fff" stroke-opacity="0.7" stroke-width="0.75" stroke-dasharray="1.8 1.6"/>
<polygon points="358.3,214 364.15,186 370,169.3 375.85,166.3 381.7,151.6 393.4,195.7 405.1,196.8 416.8,206 434.35,214 451.9,216 475.3,217 475.3,222 451.9,222 434.35,222 416.8,218 405.1,218 393.4,218 381.7,212 375.85,210 370,212 364.15,215 358.3,220" fill="#e3191b" fill-opacity="0.19" stroke="#e3191b" stroke-opacity="0.2" stroke-width="1.3"/>
<polyline points="358.3,215.3 364.15,187.3 370,170.6 375.85,167.6 381.7,152.9 393.4,197 405.1,198.1 416.8,207.3 434.35,215.3 451.9,217.3 475.3,218.3" fill="none" stroke="#fff" stroke-opacity="0.7" stroke-width="0.75" stroke-dasharray="1.8 1.6"/>
<polyline points="358.3,218.7 364.15,213.7 370,210.7 375.85,208.7 381.7,210.7 393.4,216.7 405.1,216.7 416.8,216.7 434.35,220.7 451.9,220.7 475.3,220.7" fill="none" stroke="#fff" stroke-opacity="0.7" stroke-width="0.75" stroke-dasharray="1.8 1.6"/>
<polygon points="358.3,185 364.15,195 370,186 375.85,178 381.7,200 393.4,200 405.1,198 416.8,206 434.35,213 451.9,209 475.3,208 475.3,222 451.9,222 434.35,222 416.8,220 405.1,218 393.4,220 381.7,222 375.85,200 370,206 364.15,218 358.3,198" fill="#6fae6f" fill-opacity="0.19" stroke="#6fae6f" stroke-opacity="0.2" stroke-width="1.3"/>
<polyline points="358.3,186.3 364.15,196.3 370,187.3 375.85,179.3 381.7,201.3 393.4,201.3 405.1,199.3 416.8,207.3 434.35,214.3 451.9,210.3 475.3,209.3" fill="none" stroke="#fff" stroke-opacity="0.7" stroke-width="0.75" stroke-dasharray="1.8 1.6"/>
<polyline points="358.3,196.7 364.15,216.7 370,204.7 375.85,198.7 381.7,220.7 393.4,218.7 405.1,216.7 416.8,218.7 434.35,220.7 451.9,220.7 475.3,220.7" fill="none" stroke="#fff" stroke-opacity="0.7" stroke-width="0.75" stroke-dasharray="1.8 1.6"/>
<polyline points="358.3,217.8 364.15,216.3 370,217.8 375.85,219.8 381.7,222.9 393.4,228 405.1,223.4 416.8,237 434.35,245 451.9,241.7 475.3,242.3" fill="none" stroke="#3b78c4" stroke-width="2.1" stroke-linejoin="round" stroke-linecap="round"/>
<polyline points="358.3,218.3 364.15,206 370,211.7 375.85,208.1 381.7,217.8 393.4,208.1 405.1,214.5 416.8,220.4 434.35,221.3 451.9,224.7 475.3,229.8" fill="none" stroke="#f8b51d" stroke-width="2.1" stroke-linejoin="round" stroke-linecap="round"/>
<polyline points="358.3,217.3 364.15,204 370,196.3 375.85,188.2 381.7,182.1 393.4,210.2 405.1,210.2 416.8,213.5 434.35,218.7 451.9,219 475.3,219.6" fill="none" stroke="#e3191b" stroke-width="2.1" stroke-linejoin="round" stroke-linecap="round"/>
<polyline points="358.3,191.3 364.15,207.5 370,194.8 375.85,188.7 381.7,212.7 393.4,213.2 405.1,210.7 416.8,214 434.35,218.7 451.9,217.3 475.3,216.4" fill="none" stroke="#6fae6f" stroke-width="2.1" stroke-linejoin="round" stroke-linecap="round"/>
</g>
<text transform="translate(358.30,271.00) scale(1,1.07)" font-size="9.6" class="tk" text-anchor="middle">0.00</text>
<text transform="translate(387.55,271.00) scale(1,1.07)" font-size="9.6" class="tk" text-anchor="middle">0.05</text>
<text transform="translate(416.80,271.00) scale(1,1.07)" font-size="9.6" class="tk" text-anchor="middle">0.10</text>
<text transform="translate(446.05,271.00) scale(1,1.07)" font-size="9.6" class="tk" text-anchor="middle">0.15</text>
<text transform="translate(475.30,271.00) scale(1,1.07)" font-size="9.6" class="tk" text-anchor="middle">0.20</text>
<text transform="translate(342.40,256.90) scale(1,1.07)" font-size="9.6" class="tk" text-anchor="end">0.0</text>
<text transform="translate(342.40,221.60) scale(1,1.07)" font-size="9.6" class="tk" text-anchor="end">0.2</text>
<text transform="translate(342.40,186.30) scale(1,1.07)" font-size="9.6" class="tk" text-anchor="end">0.4</text>
<text x="402.50" y="286.5" font-size="13.8" class="lg" textLength="28.4" lengthAdjust="spacingAndGlyphs">ratio</text>
<rect x="508" y="148" width="125.90" height="105.10" fill="#eaeaf2"/>
<line x1="512.30" y1="148" x2="512.30" y2="253.1" stroke="#fff" stroke-width="1.25"/>
<line x1="541.55" y1="148" x2="541.55" y2="253.1" stroke="#fff" stroke-width="1.25"/>
<line x1="570.80" y1="148" x2="570.80" y2="253.1" stroke="#fff" stroke-width="1.25"/>
<line x1="600.05" y1="148" x2="600.05" y2="253.1" stroke="#fff" stroke-width="1.25"/>
<line x1="629.30" y1="148" x2="629.30" y2="253.1" stroke="#fff" stroke-width="1.25"/>
<line x1="508" y1="245.0" x2="633.9" y2="245.0" stroke="#fff" stroke-width="1.25"/>
<line x1="508" y1="225.4" x2="633.9" y2="225.4" stroke="#fff" stroke-width="1.25"/>
<line x1="508" y1="205.75" x2="633.9" y2="205.75" stroke="#fff" stroke-width="1.25"/>
<line x1="508" y1="186.1" x2="633.9" y2="186.1" stroke="#fff" stroke-width="1.25"/>
<line x1="508" y1="166.5" x2="633.9" y2="166.5" stroke="#fff" stroke-width="1.25"/>
<g clip-path="url(#c7)">
<polygon points="512.3,170 518.15,178 524,181 529.85,184 535.7,190 547.4,186 559.1,194 570.8,203 588.35,223 605.9,227 629.3,226.3 629.3,249 605.9,247.7 588.35,232.3 570.8,215 559.1,209.3 547.4,221.5 535.7,210 529.85,216 524,225.5 518.15,205 512.3,180" fill="#3b78c4" fill-opacity="0.19" stroke="#3b78c4" stroke-opacity="0.2" stroke-width="1.3"/>
<polyline points="512.3,171.3 518.15,179.3 524,182.3 529.85,185.3 535.7,191.3 547.4,187.3 559.1,195.3 570.8,204.3 588.35,224.3 605.9,228.3 629.3,227.6" fill="none" stroke="#fff" stroke-opacity="0.7" stroke-width="0.75" stroke-dasharray="1.8 1.6"/>
<polyline points="512.3,178.7 518.15,203.7 524,224.2 529.85,214.7 535.7,208.7 547.4,220.2 559.1,208 570.8,213.7 588.35,231 605.9,246.4 629.3,247.7" fill="none" stroke="#fff" stroke-opacity="0.7" stroke-width="0.75" stroke-dasharray="1.8 1.6"/>
<polygon points="512.3,178 518.15,170 524,166 529.85,166 535.7,172 547.4,176 559.1,182 570.8,185 588.35,186 605.9,200 629.3,203 629.3,216 605.9,213 588.35,204 570.8,202 559.1,196 547.4,190 535.7,186 529.85,184 524,184 518.15,184 512.3,188" fill="#f8b51d" fill-opacity="0.19" stroke="#f8b51d" stroke-opacity="0.2" stroke-width="1.3"/>
<polyline points="512.3,179.3 518.15,171.3 524,167.3 529.85,167.3 535.7,173.3 547.4,177.3 559.1,183.3 570.8,186.3 588.35,187.3 605.9,201.3 629.3,204.3" fill="none" stroke="#fff" stroke-opacity="0.7" stroke-width="0.75" stroke-dasharray="1.8 1.6"/>
<polyline points="512.3,186.7 518.15,182.7 524,182.7 529.85,182.7 535.7,184.7 547.4,188.7 559.1,194.7 570.8,200.7 588.35,202.7 605.9,211.7 629.3,214.7" fill="none" stroke="#fff" stroke-opacity="0.7" stroke-width="0.75" stroke-dasharray="1.8 1.6"/>
<polygon points="512.3,172 518.15,180 524,172 529.85,174 535.7,185 547.4,184 559.1,192 570.8,200 588.35,210.3 605.9,211.7 629.3,212.3 629.3,223.7 605.9,225 588.35,225.7 570.8,218 559.1,208 547.4,198 535.7,200 529.85,190 524,188 518.15,194 512.3,182" fill="#e3191b" fill-opacity="0.19" stroke="#e3191b" stroke-opacity="0.2" stroke-width="1.3"/>
<polyline points="512.3,173.3 518.15,181.3 524,173.3 529.85,175.3 535.7,186.3 547.4,185.3 559.1,193.3 570.8,201.3 588.35,211.6 605.9,213 629.3,213.6" fill="none" stroke="#fff" stroke-opacity="0.7" stroke-width="0.75" stroke-dasharray="1.8 1.6"/>
<polyline points="512.3,180.7 518.15,192.7 524,186.7 529.85,188.7 535.7,198.7 547.4,196.7 559.1,206.7 570.8,216.7 588.35,224.4 605.9,223.7 629.3,222.4" fill="none" stroke="#fff" stroke-opacity="0.7" stroke-width="0.75" stroke-dasharray="1.8 1.6"/>
<polygon points="512.3,148 518.15,162 524,155.1 529.85,157.1 535.7,168 547.4,172.4 559.1,178 570.8,180 588.35,184 605.9,190 629.3,190 629.3,206 605.9,205 588.35,200 570.8,190 559.1,190 547.4,182 535.7,182 529.85,175 524,172 518.15,176 512.3,156" fill="#6fae6f" fill-opacity="0.19" stroke="#6fae6f" stroke-opacity="0.2" stroke-width="1.3"/>
<polyline points="512.3,149.3 518.15,163.3 524,156.4 529.85,158.4 535.7,169.3 547.4,173.7 559.1,179.3 570.8,181.3 588.35,185.3 605.9,191.3 629.3,191.3" fill="none" stroke="#fff" stroke-opacity="0.7" stroke-width="0.75" stroke-dasharray="1.8 1.6"/>
<polyline points="512.3,154.7 518.15,174.7 524,170.7 529.85,173.7 535.7,180.7 547.4,180.7 559.1,188.7 570.8,188.7 588.35,198.7 605.9,203.7 629.3,204.7" fill="none" stroke="#fff" stroke-opacity="0.7" stroke-width="0.75" stroke-dasharray="1.8 1.6"/>
<polyline points="512.3,175.1 518.15,192.5 524,209.8 529.85,203.2 535.7,196.6 547.4,199.1 559.1,203.1 570.8,209.9 588.35,226.5 605.9,237 629.3,238.7" fill="none" stroke="#3b78c4" stroke-width="2.1" stroke-linejoin="round" stroke-linecap="round"/>
<polyline points="512.3,183.2 518.15,176.6 524,173.6 529.85,174.6 535.7,177.6 547.4,180.7 559.1,187 570.8,191.1 588.35,196.5 605.9,206.8 629.3,209.4" fill="none" stroke="#f8b51d" stroke-width="2.1" stroke-linejoin="round" stroke-linecap="round"/>
<polyline points="512.3,176.9 518.15,186.8 524,179.4 529.85,181.7 535.7,192.4 547.4,190.7 559.1,199.8 570.8,208.7 588.35,217.7 605.9,219 629.3,218.7" fill="none" stroke="#e3191b" stroke-width="2.1" stroke-linejoin="round" stroke-linecap="round"/>
<polyline points="512.3,151.9 518.15,169.3 524,164.8 529.85,166.8 535.7,175.8 547.4,178.3 559.1,186.8 570.8,185.3 588.35,192 605.9,198.8 629.3,200" fill="none" stroke="#6fae6f" stroke-width="2.1" stroke-linejoin="round" stroke-linecap="round"/>
</g>
<text transform="translate(512.30,271.00) scale(1,1.07)" font-size="9.6" class="tk" text-anchor="middle">0.00</text>
<text transform="translate(541.55,271.00) scale(1,1.07)" font-size="9.6" class="tk" text-anchor="middle">0.05</text>
<text transform="translate(570.80,271.00) scale(1,1.07)" font-size="9.6" class="tk" text-anchor="middle">0.10</text>
<text transform="translate(600.05,271.00) scale(1,1.07)" font-size="9.6" class="tk" text-anchor="middle">0.15</text>
<text transform="translate(629.30,271.00) scale(1,1.07)" font-size="9.6" class="tk" text-anchor="middle">0.20</text>
<text transform="translate(497.00,249.00) scale(1,1.07)" font-size="9.6" class="tk" text-anchor="end">0.30</text>
<text transform="translate(497.00,229.40) scale(1,1.07)" font-size="9.6" class="tk" text-anchor="end">0.35</text>
<text transform="translate(497.00,209.75) scale(1,1.07)" font-size="9.6" class="tk" text-anchor="end">0.40</text>
<text transform="translate(497.00,190.10) scale(1,1.07)" font-size="9.6" class="tk" text-anchor="end">0.45</text>
<text transform="translate(497.00,170.50) scale(1,1.07)" font-size="9.6" class="tk" text-anchor="end">0.50</text>
<text x="556.75" y="286.5" font-size="13.8" class="lg" textLength="28.4" lengthAdjust="spacingAndGlyphs">ratio</text>
<text transform="translate(13.2,86.9) rotate(-90)" class="lg" font-size="16" textLength="31.1" lengthAdjust="spacingAndGlyphs">AUC</text>
<text transform="translate(12.9,234) rotate(-90)" class="lg" font-size="17.2" class="lg" textLength="64.6" lengthAdjust="spacingAndGlyphs">F1-score</text>
<line x1="31" y1="307" x2="64.4" y2="307" stroke="#3b78c4" stroke-width="1.9" stroke-linecap="round"/>
<line x1="180.5" y1="307" x2="214" y2="307" stroke="#f8b51d" stroke-width="1.9" stroke-linecap="round"/>
<line x1="367.5" y1="307" x2="401.3" y2="307" stroke="#e3191b" stroke-width="1.9" stroke-linecap="round"/>
<line x1="548.8" y1="307" x2="582.5" y2="307" stroke="#6fae6f" stroke-width="1.9" stroke-linecap="round"/>
<text x="76.6" y="311.8" font-size="17.2" class="lg" textLength="50.3" lengthAdjust="spacingAndGlyphs">vanilla</text>
<text x="225.6" y="311.8" font-size="17.2" class="lg" font-style="italic" textLength="14.2" lengthAdjust="spacingAndGlyphs">m</text><text x="241.2" y="313.4" font-size="11.5" font-weight="bold" textLength="6.8" lengthAdjust="spacingAndGlyphs">x</text>
<text x="254" y="311.8" font-size="17.2" class="lg" textLength="60.9" lengthAdjust="spacingAndGlyphs">filtering</text>
<text x="413.6" y="311.8" font-size="17.2" class="lg" font-style="italic">v</text><text x="422.8" y="313.4" font-size="11.5" font-weight="bold" textLength="6.8" lengthAdjust="spacingAndGlyphs">x</text>
<text x="435.8" y="311.8" font-size="17.2" class="lg" textLength="60.4" lengthAdjust="spacingAndGlyphs">filtering</text>
<text x="594.5" y="311.8" font-size="17.2" class="lg" textLength="33.5" lengthAdjust="spacingAndGlyphs">ours</text>
</svg></body></html>
